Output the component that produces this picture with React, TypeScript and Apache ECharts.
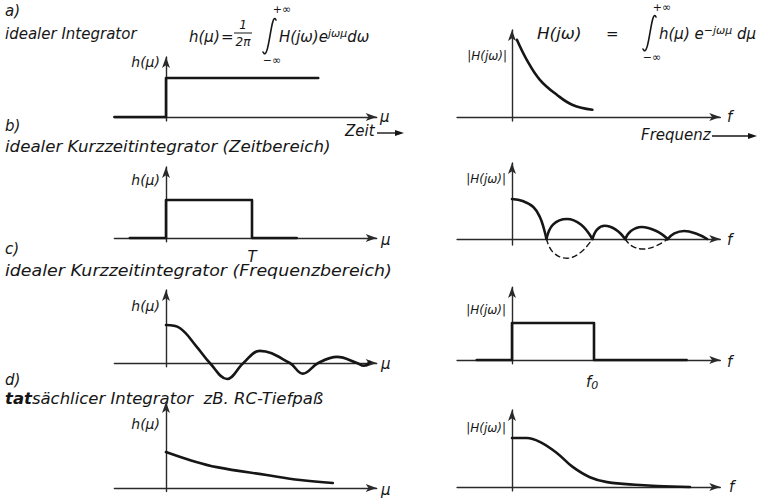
import React, { useEffect, useRef } from "react";
import * as echarts from "echarts";

type Pt = [number, number];

// ---------------- data ----------------
// x in units of T (left column) or f0 (right column), y in relative amplitude
const stepA: Pt[] = [[-0.6, 0], [0, 0], [0, 1], [1.77, 1]];
const spectrumA: Pt[] = [[0.06, 1.93], [0.18, 1.43], [0.34, 0.93], [0.55, 0.55], [0.74, 0.3], [0.98, 0.18]];

const rectTimeB: Pt[] = [[-0.42, 0], [0, 0], [0, 1], [1, 1], [1, 0], [1.52, 0]];
const sincLobe1B: Pt[] = [[0, 1], [0.13, 0.95], [0.26, 0.8], [0.34, 0.55], [0.39, 0.25], [0.42, 0]];
const sincLobe2B: Pt[] = [[0.42, 0], [0.5, 0.36], [0.67, 0.5], [0.84, 0.36], [0.98, 0]];
const sincLobe3B: Pt[] = [[0.98, 0], [1.04, 0.24], [1.13, 0.33], [1.27, 0.23], [1.38, 0]];
const sincLobe4B: Pt[] = [[1.38, 0], [1.45, 0.2], [1.58, 0.3], [1.76, 0.2], [1.9, 0]];
const sincLobe5B: Pt[] = [[1.9, 0], [1.98, 0.14], [2.1, 0.2], [2.25, 0.13], [2.38, 0]];
const negLobe1B: Pt[] = [[0.42, 0], [0.5, -0.33], [0.67, -0.48], [0.84, -0.33], [0.98, 0]];
const negLobe2B: Pt[] = [[1.38, 0], [1.46, -0.17], [1.6, -0.25], [1.76, -0.17], [1.9, 0]];

const sincTimeC: Pt[] = [[0, 1], [0.16, 0.92], [0.36, 0.42], [0.51, 0], [0.71, -0.42], [0.9, 0], [1.09, 0.32], [1.44, 0], [1.59, -0.28], [1.77, 0], [1.99, 0.16], [2.22, 0], [2.3, -0.07], [2.37, 0.03]];
const rectFreqC: Pt[] = [[-0.43, 0], [0, 0], [0, 1], [1, 1], [1, 0], [2.13, 0]];

const expTimeD: Pt[] = [[0, 1], [0.3, 0.76], [0.59, 0.58], [1.17, 0.36], [1.56, 0.22], [1.94, 0.14]];
const lowpassD: Pt[] = [[0, 1], [0.18, 1], [0.34, 0.92], [0.55, 0.69], [0.74, 0.41], [0.95, 0.2], [1.16, 0.1], [1.56, 0.04], [1.77, 0.02], [2.17, 0]];

// ---------------- layout (pixels) ----------------
const COLS = {
  left: { x0: 166, u: 86, xmin: -0.6, xmax: 2.45 },
  right: { x0: 512, u: 82, xmin: -0.67, xmax: 2.54 },
};
const PANELS = [
  { col: "left", axisY: 117, unit: 39, ymax: 1.54, ymin: -0.1 },
  { col: "right", axisY: 117, unit: 40, ymax: 2.175, ymin: -0.1 },
  { col: "left", axisY: 238, unit: 38, ymax: 1.87, ymin: -0.1 },
  { col: "right", axisY: 239, unit: 40, ymax: 1.9, ymin: -0.15 },
  { col: "left", axisY: 363, unit: 38, ymax: 1.92, ymin: -0.1 },
  { col: "right", axisY: 360, unit: 37, ymax: 1.97, ymin: -0.1 },
  { col: "left", axisY: 488, unit: 36, ymax: 2.39, ymin: -0.1 },
  { col: "right", axisY: 487, unit: 49, ymax: 1.57, ymin: -0.08 },
];

const INK = "#161616";
const AXIS = "#2a2a2a";
const FONT = '"DejaVu Sans", sans-serif';

function curve(panel: number, data: Pt[], opts: any = {}) {
  return {
    type: "line",
    xAxisIndex: panel,
    yAxisIndex: panel,
    data,
    showSymbol: false,
    symbol: "none",
    clip: false,
    silent: true,
    smooth: opts.smooth ?? false,
    lineStyle: { color: INK, width: opts.width ?? 2.6, type: opts.dashed ? [5, 4] : "solid", cap: "round", join: "round" },
    z: 3,
  };
}

function txt(text: string, x: number, y: number, size: number, extra: any = {}) {
  const align = extra.align ?? "left";
  return {
    type: "text",
    x,
    y,
    scaleX: extra.scaleX ?? 1,
    silent: true,
    style: {
      text,
      font: `italic ${extra.weight ?? "normal"} ${size}px ${FONT}`,
      fill: INK,
      align,
      textAlign: align,
      verticalAlign: "middle",
      textVerticalAlign: "middle",
      rich: extra.rich,
    },
  };
}

function arrowLabel(x1: number, x2: number, y: number) {
  return [
    { type: "line", silent: true, shape: { x1, y1: y, x2: x2 - 6, y2: y }, style: { stroke: INK, lineWidth: 1.4 } },
    { type: "polygon", silent: true, shape: { points: [[x2 - 9, y - 3], [x2, y], [x2 - 9, y + 3]] }, style: { fill: INK } },
  ];
}

// integral sign: top hook tip (tx, ty), bottom hook tip (bx, by)
function integral(tx: number, ty: number, bx: number, by: number) {
  return {
    type: "bezierCurve",
    silent: true,
    shape: {
      x1: tx, y1: ty,
      cpx1: tx - 5, cpy1: ty - 11,
      cpx2: bx + 6, cpy2: by + 12,
      x2: bx, y2: by,
    },
    style: { stroke: INK, fill: "none", lineWidth: 1.6, lineCap: "round" },
  };
}

export default function App() {
  const ref = useRef<HTMLDivElement>(null);
  useEffect(() => {
    if (!ref.current) return;
    const chart = echarts.init(ref.current, undefined, { renderer: "svg" });

    const grids: any[] = [];
    const xAxes: any[] = [];
    const yAxes: any[] = [];
    PANELS.forEach((p, i) => {
      const c = (COLS as any)[p.col];
      grids.push({
        left: c.x0 + c.xmin * c.u,
        width: (c.xmax - c.xmin) * c.u,
        top: p.axisY - p.ymax * p.unit,
        height: (p.ymax - p.ymin) * p.unit,
        containLabel: false,
      });
      const axisLine = {
        show: true,
        onZero: true,
        symbol: ["none", "arrow"],
        symbolSize: [6, 11],
        lineStyle: { color: AXIS, width: 1.4 },
      };
      xAxes.push({
        gridIndex: i, type: "value", min: c.xmin, max: c.xmax,
        axisLine, axisTick: { show: false }, axisLabel: { show: false }, splitLine: { show: false },
      });
      yAxes.push({
        gridIndex: i, type: "value", min: p.ymin, max: p.ymax,
        axisLine, axisTick: { show: false }, axisLabel: { show: false }, splitLine: { show: false },
      });
    });

    const series = [
      curve(0, stepA),
      curve(1, spectrumA, { smooth: 0.4 }),
      curve(2, rectTimeB),
      curve(3, sincLobe1B, { smooth: 0.4 }),
      curve(3, sincLobe2B, { smooth: 0.4 }),
      curve(3, sincLobe3B, { smooth: 0.4 }),
      curve(3, sincLobe4B, { smooth: 0.4 }),
      curve(3, sincLobe5B, { smooth: 0.4 }),
      curve(3, negLobe1B, { smooth: 0.4, dashed: true, width: 1.4 }),
      curve(3, negLobe2B, { smooth: 0.4, dashed: true, width: 1.4 }),
      curve(4, sincTimeC, { smooth: 0.4 }),
      curve(5, rectFreqC),
      curve(6, expTimeD, { smooth: 0.4 }),
      curve(7, lowpassD, { smooth: 0.4 }),
    ];

    const sup = { font: `italic 11px ${FONT}`, fill: INK, verticalAlign: "bottom", padding: [0, 0, 8, 0] };
    const graphic: any[] = [
      // panel titles
      txt("a)", 5, 11, 15),
      txt("idealer Integrator", 5, 34, 15),
      txt("b)", 5, 126, 15),
      txt("idealer Kurzzeitintegrator (Zeitbereich)", 5, 147, 15, { scaleX: 1.11 }),
      txt("c)", 5, 249, 15),
      txt("idealer Kurzzeitintegrator (Frequenzbereich)", 5, 271, 15, { scaleX: 1.16 }),
      txt("d)", 5, 380, 15),
      txt("{b|tat}sächlicer Integrator  zB. RC-Tiefpaß", 5, 399, 15, {
        scaleX: 1.1,
        rich: { b: { font: `italic bold 15px ${FONT}`, fill: INK } },
      }),
      // left formula
      txt("h(μ)", 189, 37, 15),
      txt("=", 221, 37, 15),
      txt("1", 243, 25, 12, { align: "center" }),
      { type: "line", silent: true, shape: { x1: 234, y1: 33, x2: 252, y2: 33 }, style: { stroke: INK, lineWidth: 1 } },
      txt("2π", 243, 42, 12, { align: "center" }),
      integral(276, 20, 263, 52),
      txt("+∞", 282, 9, 11, { align: "center" }),
      txt("−∞", 272, 60, 11, { align: "center" }),
      txt("H(jω)e{s|jωμ}dω", 279, 37, 15, { rich: { s: sup } }),
      // right formula
      txt("H(jω)", 537, 34, 15, { scaleX: 1.12 }),
      txt("=", 606, 34, 15),
      integral(656, 17, 643, 49),
      txt("+∞", 662, 7, 11, { align: "center" }),
      txt("−∞", 652, 57, 11, { align: "center" }),
      txt("h(μ) e{s|−jωμ} dμ", 659, 34, 15, { rich: { s: sup } }),
      // axis names
      txt("h(μ)", 160, 62, 14, { align: "right" }),
      txt("|H(jω)|", 507, 56, 12, { align: "right" }),
      txt("h(μ)", 160, 180, 14, { align: "right" }),
      txt("|H(jω)|", 506, 179, 12, { align: "right" }),
      txt("h(μ)", 160, 306, 14, { align: "right" }),
      txt("|H(jω)|", 506, 310, 12, { align: "right" }),
      txt("h(μ)", 160, 424, 14, { align: "right" }),
      txt("|H(jω)|", 506, 428, 12, { align: "right" }),
      txt("μ", 380, 117, 15),
      txt("μ", 381, 240, 15),
      txt("μ", 381, 364, 15),
      txt("μ", 381, 490, 15),
      txt("f", 727, 117, 15),
      txt("f", 727, 240, 15),
      txt("f", 727, 362, 15),
      txt("f", 729, 487, 15),
      txt("T", 252, 257, 15, { align: "center" }),
      txt("f{s|0}", 592, 382, 15, { align: "center", rich: { s: { font: `italic 11px ${FONT}`, fill: INK, verticalAlign: "top", padding: [6, 0, 0, 0] } } }),
      txt("Zeit", 345, 131, 15),
      ...arrowLabel(377, 404, 133),
      txt("Frequenz", 641, 135, 15),
      ...arrowLabel(712, 757, 136),
    ];

    chart.setOption({
      animation: false,
      backgroundColor: "#ffffff",
      grid: grids,
      xAxis: xAxes,
      yAxis: yAxes,
      series,
      graphic: { elements: graphic },
    });
    return () => chart.dispose();
  }, []);

  return (
    <div
      ref={ref}
      style={{ position: "fixed", left: 0, top: 0, width: 761, height: 499, background: "#fff" }}
    />
  );
}
